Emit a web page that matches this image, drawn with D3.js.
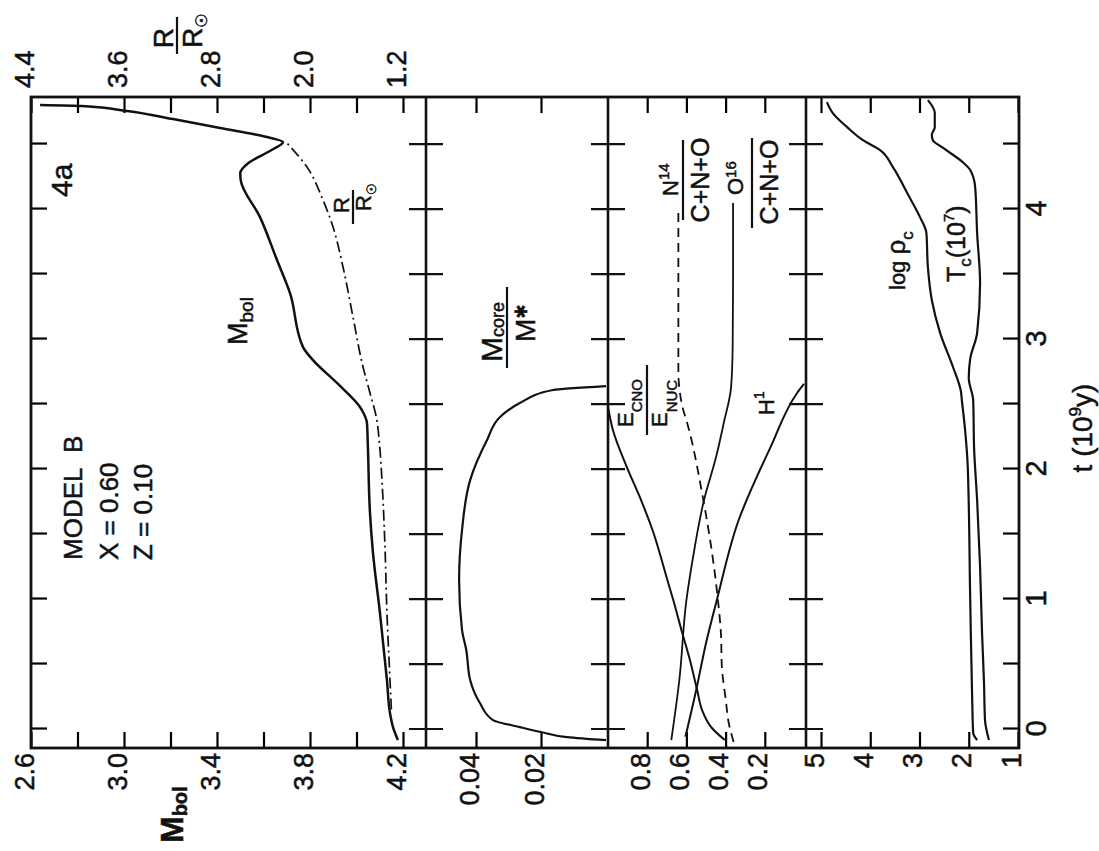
<!DOCTYPE html>
<html>
<head>
<meta charset="utf-8">
<script src="https://cdn.jsdelivr.net/npm/d3@7"></script>
<style>
  body { margin: 0; background: #fff; }
  svg { display: block; background: #fff; }
  text { font-family: "Liberation Sans", Arial, sans-serif; fill: #111; stroke: #111; stroke-width: 0.5px; }
</style>
</head>
<body>
<svg id="chart" width="1099" height="851"></svg>
<script>
// ticks
const timeTicks = [0, 0.5, 1, 1.5, 2, 2.5, 3, 3.5, 4, 4.5];
const timeLabels = [0, 1, 2, 3, 4];
const mbolTicks = [2.6, 2.8, 3.0, 3.2, 3.4, 3.6, 3.8, 4.0, 4.2];
const mbolLabels = [2.6, 3.0, 3.4, 3.8, 4.2];
const radTicks = [4.4, 4.0, 3.6, 3.2, 2.8, 2.4, 2.0, 1.6, 1.2];
const radLabels = [4.4, 3.6, 2.8, 2.0, 1.2];
const coreTicks = [0.04, 0.02];
const fracTicks = [0.8, 0.6, 0.4, 0.2];
const centralTicks = [5, 4, 3, 2, 1];

// series, [t (10^9 y), value]
const mbol = [[-0.085, 4.178], [0.015, 4.157], [0.123, 4.144], [0.377, 4.131], [0.892, 4.101], [1.354, 4.071],
  [1.662, 4.058], [2.169, 4.049], [2.354, 4.045], [2.431, 4.030], [2.477, 4.015], [2.662, 3.916], [2.838, 3.813],
  [2.938, 3.770], [3.354, 3.714], [3.608, 3.658], [3.938, 3.585], [4.223, 3.502], [4.277, 3.500], [4.354, 3.535],
  [4.454, 3.635], [4.515, 3.684], [4.554, 3.615], [4.623, 3.413], [4.692, 3.211], [4.754, 3.013], [4.792, 2.819],
  [4.800, 2.639]];
const radius = [[0.15, 1.300], [0.377, 1.312], [0.892, 1.338], [1.4, 1.355], [1.915, 1.381], [2.169, 1.400],
  [2.4, 1.430], [2.585, 1.484], [2.785, 1.544], [3.169, 1.630], [3.554, 1.716], [3.862, 1.802], [4.069, 1.888],
  [4.323, 2.026], [4.508, 2.198]];
const coreMass = [[-0.086, 0.0], [-0.062, 0.012], [-0.023, 0.020], [0.015, 0.0265], [0.069, 0.0348], [0.2, 0.0388],
  [0.377, 0.0418], [0.608, 0.0430], [0.762, 0.0443], [1.146, 0.0452], [1.531, 0.0443], [1.915, 0.0418],
  [2.223, 0.0366], [2.4, 0.0326], [2.508, 0.0265], [2.608, 0.0163], [2.638, 0.0]];
const ecno = [[-0.085, 0.404], [0.008, 0.47], [0.146, 0.52], [0.3, 0.545], [0.554, 0.586], [0.738, 0.621],
  [0.992, 0.667], [1.146, 0.697], [1.531, 0.773], [1.785, 0.838], [2.015, 0.904], [2.3, 0.975], [2.477, 1.0]];
const oxygen = [[-0.085, 0.677], [0.377, 0.636], [0.99, 0.60], [1.277, 0.571], [1.762, 0.51], [2.09, 0.449],
  [2.35, 0.41], [2.63, 0.372], [2.94, 0.364], [3.45, 0.362], [4.046, 0.362]];
const nitrogen = [[-0.1, 0.359], [0.046, 0.384], [0.223, 0.399], [0.477, 0.419], [0.74, 0.424], [0.99, 0.439],
  [1.815, 0.52], [2.354, 0.596], [2.477, 0.62], [2.76, 0.641], [3.45, 0.641], [4.0, 0.641]];
const hydrogen = [[-0.06, 0.605], [0.3, 0.55], [0.66, 0.50], [0.99, 0.445], [1.6, 0.335], [2.17, 0.17],
  [2.585, 0.035], [2.655, 0.0]];
const rhoc = [[-0.085, 1.83], [-0.03, 1.91], [0.223, 1.93], [0.99, 1.97], [2.015, 2.02], [2.323, 2.08], [2.53, 2.14],
  [2.6, 2.16], [2.785, 2.32], [3.046, 2.58], [3.3, 2.75], [3.554, 2.83], [3.815, 2.86], [3.938, 2.99], [4.123, 3.25],
  [4.323, 3.54], [4.454, 3.80], [4.53, 4.15], [4.63, 4.47], [4.738, 4.76], [4.823, 4.88]];
const tc = [[-0.085, 1.59], [0.069, 1.67], [0.354, 1.69], [0.738, 1.73], [1.246, 1.77], [1.762, 1.83], [2.146, 1.89],
  [2.53, 1.91], [2.7, 2.0], [2.85, 1.97], [3.046, 1.83], [3.43, 1.77], [3.815, 1.83], [4.17, 1.87], [4.3, 1.97],
  [4.36, 2.12], [4.47, 2.52], [4.53, 2.73], [4.57, 2.75], [4.63, 2.69], [4.74, 2.69], [4.838, 2.83]];

const svg = d3.select('#chart');
// chart is drawn upright and then turned a quarter turn to the left
const g = svg.append('g').attr('transform', 'translate(31,748) rotate(-90)');
const W = 651, H = 988;
const dividers = [395, 577, 775];

const x = d3.scaleLinear().domain([-0.146, 4.862]).range([0, W]);
const yMbol = d3.scaleLinear().domain([2.6, 4.2]).range([0, 372]);
const yRad = d3.scaleLinear().domain([4.4, 1.2]).range([0, 372]);
const yCore = d3.scaleLinear().domain([0, 0.04]).range([575, 445]);
const yFrac = d3.scaleLinear().domain([0, 1]).range([773, 577]);
const yCent = d3.scaleLinear().domain([1, 5]).range([987, 790]);

function styleAxis(sel, size) {
    sel.select('.domain').remove();
    sel.attr('font-family', null).attr('font-size', null);
    sel.selectAll('.tick line').attr('stroke-width', 2.2);
    sel.selectAll('.tick text').attr('font-size', size);
}

function valueAxis(scale, ticks, labels, fmt) {
    const left = g.append('g')
        .call(d3.axisLeft(scale).tickValues(ticks).tickSize(-16).tickPadding(5)
            .tickFormat(d => labels.indexOf(d) >= 0 ? fmt(d) : ''));
    styleAxis(left, 27);
    left.selectAll('.tick text').attr('dy', 2);
}
function rightTicks(scale, ticks) {
    const right = g.append('g').attr('transform', `translate(${W},0)`)
        .call(d3.axisRight(scale).tickValues(ticks).tickSize(-16).tickFormat(''));
    styleAxis(right, 27);
}

valueAxis(yMbol, mbolTicks, mbolLabels, d3.format('.1f'));
valueAxis(yCore, coreTicks, coreTicks, d3.format('.2f'));
valueAxis(yFrac, fracTicks, fracTicks, d3.format('.1f'));
valueAxis(yCent, centralTicks, centralTicks, d3.format('d'));

const radAxis = g.append('g').attr('transform', `translate(${W},0)`)
    .call(d3.axisRight(yRad).tickValues(radTicks).tickSize(-16).tickPadding(9)
        .tickFormat(d => radLabels.indexOf(d) >= 0 ? d3.format('.1f')(d) : ''));
styleAxis(radAxis, 27);
radAxis.selectAll('.tick text').attr('dy', 2);
rightTicks(yCore, coreTicks);
rightTicks(yFrac, fracTicks);
rightTicks(yCent, centralTicks);

// time axis
const timeAxis = g.append('g').attr('transform', `translate(0,${H})`)
    .call(d3.axisBottom(x).tickValues(timeTicks).tickSize(-16).tickPadding(6)
        .tickFormat(d => timeLabels.indexOf(d) >= 0 ? d : ''));
styleAxis(timeAxis, 29);
const timeTopAxis = g.append('g').call(d3.axisTop(x).tickValues(timeTicks).tickSize(-16).tickFormat(''));
styleAxis(timeTopAxis, 29);

dividers.forEach(v => {
    g.append('line').attr('x1', 0).attr('x2', W).attr('y1', v).attr('y2', v)
        .attr('stroke', '#111').attr('stroke-width', 2.6);
    g.selectAll(null).data(timeTicks).enter().append('line')
        .attr('x1', d => x(d)).attr('x2', d => x(d))
        .attr('y1', v - 17).attr('y2', v + 17)
        .attr('stroke', '#111').attr('stroke-width', 2.2);
});
g.append('rect').attr('x', 0).attr('y', 0).attr('width', W).attr('height', H)
    .attr('fill', 'none').attr('stroke', '#111').attr('stroke-width', 2.8);

function curve(data, yScale, width, dash) {
    const line = d3.line().x(d => x(d[0])).y(d => yScale(d[1])).curve(d3.curveMonotoneX);
    g.append('path').datum(data).attr('d', line)
        .attr('fill', 'none').attr('stroke', '#111').attr('stroke-width', width)
        .attr('stroke-dasharray', dash || null).attr('stroke-linejoin', 'round');
}
curve(mbol, yMbol, 2.5);
curve(radius, yRad, 1.7, '11,4,2,4');
curve(coreMass, yCore, 2.2);
curve(ecno, yFrac, 2);
curve(oxygen, yFrac, 1.8);
curve(nitrogen, yFrac, 1.8, '9,6');
curve(hydrogen, yFrac, 2);
curve(rhoc, yCent, 2.2);
curve(tc, yCent, 2.2);

// labels
function label(u, v, parts, anchor) {
    const t = g.append('text').attr('x', u).attr('y', v).attr('text-anchor', anchor || 'start');
    parts.forEach(p => {
        const s = t.append('tspan').attr('font-size', p[1]).attr('dy', p[2] || 0).text(p[0]);
        if (p[3]) s.style('font-family', p[3]);
    });
    return t;
}
function bar(u1, u2, v) {
    g.append('line').attr('x1', u1).attr('x2', u2).attr('y1', v).attr('y2', v)
        .attr('stroke', '#111').attr('stroke-width', 2.2);
}

label(551, 41, [['4a', 30]]);
label(188, 51, [['MODEL\u00a0\u00a0B', 26]]);
label(188, 87, [['X = 0.60', 26]]);
label(188, 121, [['Z = 0.10', 26]]);

label(403, 216, [['M', 27], ['bol', 19, 6]]);
label(-95, 152, [['M', 32], ['bol', 20, 4]]).attr('font-weight', 'bold');

// R / R_sun, inside and as axis title
label(543, 318, [['R', 22]], 'middle');
bar(524, 558, 322);
label(537, 340, [['R', 22], ['\u2609', 13, 5, 'DejaVu Sans']]);

label(710, 142, [['R', 28]], 'middle');
bar(694, 731, 146);
label(700, 171, [['R', 28], ['\u2609', 16, 5, 'DejaVu Sans']]);

// M_core / M*
label(386, 471, [['M', 30], ['core', 18, 2]]);
bar(380, 461, 476);
label(406, 504, [['M', 28], ['\u2731', 17, -8, 'DejaVu Sans']]);

// E_CNO / E_NUC
label(321, 602, [['E', 22], ['CNO', 15, 9]]);
bar(313, 383, 616);
label(321, 636, [['E', 22], ['NUC', 15, 10]]);

// N14 and O16 over C+N+O
label(552, 647, [['N', 22], ['14', 15, -9]]);
bar(528, 608, 652);
label(568, 678, [['C+N+O', 25]], 'middle');

label(553, 712, [['O', 22], ['16', 15, -7]]);
bar(520, 610, 721);
label(566, 747, [['C+N+O', 25]], 'middle');

label(333, 743, [['H', 22], ['1', 14, -10]]);

label(458, 874, [['log\u00a0', 22], ['\u03c1', 26, 0], ['c', 17, 8]]);
label(466, 934, [['T', 25], ['c', 17, 6], ['(10', 25, -6], ['7', 15, -11], [')', 25, 11]]);

label(320, 1061, [['t (10', 28], ['9', 17, -11], ['y)', 28, 11]], 'middle');
</script>
</body>
</html>
